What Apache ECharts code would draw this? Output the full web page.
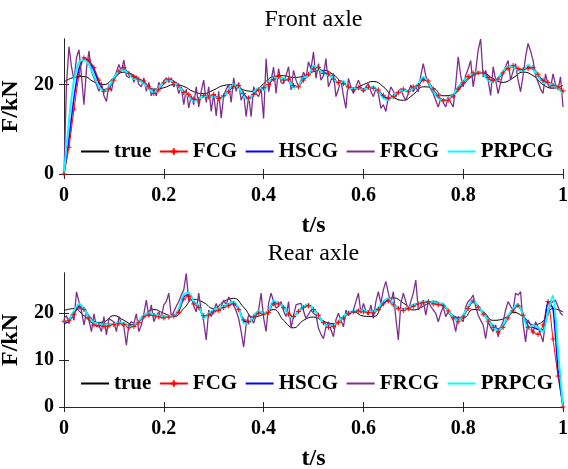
<!DOCTYPE html>
<html>
<head>
<meta charset="utf-8">
<script src="https://cdn.jsdelivr.net/npm/echarts@6/dist/echarts.min.js"></script>
<style>
  html, body { margin: 0; padding: 0; background: #ffffff; }
  #chart { width: 568px; height: 469px; }
</style>
</head>
<body>
<div id="chart"></div>
<script>
// Axle load identification: true load vs. four estimators (FCG, HSCG, FRCG, PRPCG)
const seriesNames = ['true', 'FCG', 'HSCG', 'FRCG', 'PRPCG'];
const xTicks = [0, 0.2, 0.4, 0.6, 0.8, 1];
const frontYTicks = [0, 20];
const rearYTicks = [0, 10, 20];
const frontYMax = 30.2;
const rearYMax = 28.6;

// ---- Front axle (kN) ----
// true load, 0.02 s step
const frontTrue = [
  20.6, 21.6, 21.8, 20.6, 20.0, 21.5, 22.8, 22.0, 20.3, 19.0,
  19.3, 20.0, 19.6, 18.4, 18.0, 18.8, 19.8, 20.0, 18.8, 18.5,
  20.2, 21.8, 22.0, 21.6, 21.9, 22.9, 23.2, 22.2, 20.2, 19.2,
  20.0, 20.7, 19.5, 17.2, 16.5, 17.8, 19.5, 19.2, 17.5, 17.8,
  20.0, 22.0, 22.6, 21.3, 20.5, 21.5, 22.8, 22.0, 20.0, 19.2,
  19.8
];
// FCG, 0.01 s step
const frontFCG = [
  0, 6, 14.5, 22, 26, 25.5, 23.8, 21, 18.5, 19,
  21, 23, 23.8, 22.5, 21.8, 21.2, 20.8, 19.5, 18, 18.8,
  20.4, 21.2, 20.5, 19.8, 18.2, 17.8, 16.8, 16.6, 17.6, 17.2,
  17.8, 16.9, 17.5, 18.4, 19.6, 19.8, 18.0, 17.0, 17.8, 18.8,
  19.3, 20.0, 21.2, 21.8, 21.0, 21.2, 19.8, 19.5, 21.0, 22.3,
  23.5, 23.8, 22.5, 22.4, 21.2, 20.5, 20.2, 19.5, 18.8, 19.3,
  18.7, 19.4, 19.2, 18.8, 17.6, 17.0, 17.3, 18.2, 19.0, 18.4,
  19.5, 19.8, 21.0, 20.8, 19.0, 17.5, 16.4, 16.5, 17.4, 19.0,
  20.4, 21.8, 22.6, 22.6, 22.6, 21.6, 20.9, 21.2, 22.6, 23.6,
  24.3, 23.6, 23.4, 23.6, 23.8, 22.3, 21.0, 20.5, 19.8, 19.5,
  18.6
];
// HSCG, 0.01 s step
const frontHSCG = [
  0, 8, 17, 23.5, 25.8, 25.2, 23.2, 20.5, 18.8, 19.3,
  21.2, 22.8, 23.4, 22.6, 21.5, 21.0, 20.4, 19.2, 18.3, 19.0,
  20.3, 21.0, 20.7, 19.7, 18.5, 17.5, 16.5, 16.8, 17.4, 17.4,
  17.5, 17.0, 17.3, 18.6, 19.8, 19.5, 17.8, 16.8, 18.0, 19.0,
  19.0, 20.3, 21.4, 21.5, 21.3, 20.8, 19.5, 19.8, 21.2, 22.0,
  23.8, 23.5, 22.8, 22.2, 21.5, 20.2, 20.5, 19.2, 19.1, 19.0,
  18.9, 19.2, 19.4, 18.6, 17.3, 16.8, 17.5, 18.4, 18.8, 18.6,
  19.2, 20.0, 21.3, 20.5, 18.7, 17.2, 16.5, 16.8, 17.7, 19.3,
  20.6, 21.6, 22.4, 22.8, 22.4, 21.2, 20.8, 21.4, 22.8, 23.8,
  24.0, 23.4, 23.2, 24.0, 23.4, 22.0, 20.7, 20.3, 20.0, 19.3,
  18.3
];
// FRCG, 0.005 s step
const frontFRCG = [
  0, 20, 28.5, 24, 21, 26, 27.8, 22, 15.5, 23.5,
  27.5, 23, 21.5, 20, 18.5, 20.5, 17.5, 16.2, 20, 18.5,
  21.5, 22.8, 24.5, 23, 25.5, 22, 21.5, 22.5, 20.5, 22,
  20, 19.5, 21.5, 18.5, 20.5, 17.5, 19, 17.5, 20.5, 19.5,
  20.8, 21.5, 20.5, 21.5, 19.5, 20.5, 18, 19.5, 15.5, 19,
  14.8, 17.5, 15.5, 19.5, 15, 18.5, 21, 16, 19.5, 14,
  18, 13, 18.5, 12.5, 17.5, 19, 20, 16, 21.5, 18.5,
  20.5, 16.5, 18, 12.8, 17.5, 12.8, 19.5, 18, 17.3, 19,
  12.4, 25.8, 18.4, 21, 23.9, 18, 23.6, 20.5, 20.2, 22,
  24, 18.8, 23.2, 21, 19.5, 21, 22.8, 21.5, 25.1, 23.5,
  27.3, 21.4, 24.7, 21, 22, 25.8, 19.5, 21, 22.5, 17.3,
  19, 21, 17.5, 14.7, 21.4, 19.5, 18, 19.5, 21, 19.5,
  18.4, 19.5, 20.2, 18.5, 17.3, 19, 18, 14.7, 15.5, 14,
  17.3, 19.5, 18.5, 17.3, 18.5, 19.1, 17.5, 16.5, 18, 19.9,
  18.4, 19.5, 18.4, 22, 24.7, 22, 20.2, 19, 18, 16.5,
  15, 16.9, 16, 15, 17.3, 16, 15, 20, 26.2, 22,
  19.5, 22.1, 23.5, 25.4, 19.5, 23, 27.7, 30.2, 21.7, 23.2,
  21, 17.6, 24, 21, 18, 20.5, 22.8, 24, 25.4, 21,
  23, 24.7, 21, 18.4, 22, 26.2, 29.2, 27.5, 25.4, 22,
  20.6, 19, 18, 22.4, 20, 19.1, 22.4, 20, 18.8, 21.7,
  15
];
// PRPCG, 0.01 s step
const frontPRPCG = [
  0, 12, 21, 25, 25.6, 24.5, 22, 19.5, 18.5, 19.5,
  21.5, 23, 23.3, 22.3, 21.3, 21.0, 20.2, 19, 18.2, 19.2,
  20.5, 21.0, 20.5, 19.5, 18.3, 17.3, 16.2, 16.8, 17.5, 17.3,
  17.4, 16.8, 17.2, 18.8, 20.0, 19.4, 17.5, 16.5, 18.3, 19.2,
  18.8, 20.5, 21.6, 21.5, 21.3, 21.0, 19.3, 19.8, 21.5, 22.0,
  24.2, 23.4, 22.6, 22.0, 21.5, 20.0, 20.8, 19.0, 19.2, 19.0,
  18.8, 19.2, 19.5, 18.5, 17.0, 16.5, 17.5, 18.5, 18.8, 18.5,
  19.2, 20.2, 21.7, 20.5, 18.5, 17.0, 16.3, 16.8, 17.8, 19.5,
  20.8, 21.8, 22.5, 22.8, 22.3, 21.0, 20.6, 21.5, 23.0, 24.0,
  24.0, 23.2, 23.0, 24.4, 23.5, 21.8, 20.5, 20.2, 20.0, 19.2,
  18.0
];

// ---- Rear axle (kN) ----
const rearTrue = [
  20.6, 21.0, 19.5, 18.0, 18.2, 19.5, 18.5, 17.5, 19.5, 20.8,
  20.0, 19.3, 21.0, 23.0, 22.3, 21.0, 22.5, 23.2, 21.3, 19.2,
  19.8, 20.8, 18.5, 16.9, 18.5, 19.2, 18.3, 17.8, 19.0, 20.3,
  19.4, 19.3, 22.0, 23.3, 22.2, 20.7, 21.5, 22.6, 21.5, 19.5,
  19.0, 20.8, 20.3, 18.5, 18.8, 20.2, 19.3, 17.6, 18.3, 21.0,
  20.3
];
const rearFCG = [
  18.3, 18.5, 19.8, 21.2, 20.8, 19.0, 17.5, 17.4, 17.2, 17.3,
  17.6, 17.8, 17.6, 16.9, 17.2, 18.0, 19.2, 19.6, 19.5, 19.2,
  19.0, 19.2, 19.4, 20.2, 23.0, 23.6, 22.0, 21.2, 19.5, 19.6,
  20.3, 20.6, 21.2, 21.6, 22.0, 20.8, 18.6, 18.2, 19.2, 20.0,
  19.8, 20.2, 22.0, 22.0, 21.2, 19.8, 19.3, 20.4, 21.2, 21.6,
  20.8, 19.6, 18.0, 17.0, 17.2, 18.0, 19.0, 20.0, 20.3, 20.5,
  20.3, 20.2, 20.1, 20.8, 22.0, 22.6, 21.8, 21.0, 20.6, 21.0,
  21.5, 22.0, 22.3, 22.5, 22.0, 21.8, 21.6, 20.5, 19.0, 18.2,
  19.2, 21.0, 22.6, 21.3, 19.8, 18.3, 17.0, 16.0, 17.0, 19.0,
  20.5, 21.6, 19.6, 17.0, 16.0, 15.5, 17.5, 22.5, 14.5, 6.6,
  0
];
const rearHSCG = [
  17.8, 18.3, 20.0, 21.5, 21.0, 19.4, 18.2, 17.9, 17.7, 17.6,
  17.8, 18.0, 17.9, 17.3, 17.5, 18.3, 19.4, 19.9, 19.8, 19.5,
  19.3, 19.3, 19.4, 20.6, 23.5, 24.0, 22.6, 21.5, 19.3, 19.8,
  20.6, 21.0, 21.5, 21.9, 22.2, 21.0, 18.4, 18.0, 19.4, 20.3,
  20.1, 20.4, 22.4, 22.2, 21.4, 19.7, 19.2, 20.5, 21.4, 21.8,
  20.9, 19.6, 18.0, 17.4, 17.5, 18.3, 19.2, 20.1, 20.4, 20.6,
  20.5, 20.5, 20.4, 21.1, 22.3, 22.9, 22.0, 21.1, 20.9, 21.3,
  21.7, 22.1, 22.4, 22.4, 22.3, 22.1, 21.8, 20.6, 19.3, 18.6,
  19.6, 21.3, 22.5, 21.5, 20.1, 18.6, 17.4, 16.6, 17.4, 19.3,
  20.8, 21.8, 19.8, 17.2, 17.0, 16.6, 16.5, 22.5, 21.0, 8.0,
  0
];
const rearFRCG = [
  18.9, 19.5, 17.8, 19.8, 18.5, 24.6, 22.5, 20.5, 17.5, 20.3,
  18.5, 16.1, 19.9, 17.1, 17.5, 16.1, 19.3, 15.4, 18.9, 18.5,
  18.2, 16.1, 19.3, 17.8, 17.1, 13.2, 17.6, 18.2, 17.8, 19.9,
  16.1, 17.5, 19.9, 22.8, 19.3, 21.8, 18.2, 19.5, 20.3, 19,
  21.8, 22.5, 24.3, 19.3, 20.3, 21.5, 22.5, 23.9, 25, 28.5,
  22.5, 23.9, 21.5, 20.3, 24.3, 20.5, 18.2, 14.3, 20.7, 19.3,
  20.5, 22.1, 20.7, 21.4, 22.8, 21.8, 23.5, 22.5, 21.8, 20.5,
  18.9, 16.1, 12.8, 17.5, 19.6, 19, 17.9, 19.5, 20.7, 24.3,
  19, 16.1, 22.1, 24.3, 22.5, 21.1, 21.5, 22.5, 20.5, 19.3,
  22.5, 16.8, 19.5, 21.8, 22, 22.1, 20.5, 18.9, 19.8, 20.7,
  20, 19.6, 16.8, 15.5, 14.6, 17.1, 18.2, 16.5, 15, 18.6,
  20, 18.5, 17.1, 20.7, 19.6, 20, 20.7, 22.5, 24.3, 20,
  22.1, 20.5, 19.6, 21.8, 18.9, 22.5, 24.6, 22.1, 25, 26.8,
  24.3, 22.1, 24.6, 19, 14.3, 22.1, 24.3, 22.5, 20.7, 22.5,
  24.3, 27.1, 20.7, 21.5, 22.8, 19.6, 22.5, 21.5, 20.7, 20,
  18.2, 20, 21.4, 19.3, 20.3, 19.5, 18.6, 16.1, 19.3, 18.8,
  18.2, 21.4, 22.5, 23, 23.9, 21.4, 19.6, 18.5, 17.5, 14.6,
  18.2, 17, 16.1, 17.5, 15, 17, 18.2, 20.7, 22.5, 21.5,
  20.7, 24.3, 23.9, 24.6, 17.8, 13.9, 18.6, 17.5, 15.7, 18.2,
  17.1, 15.5, 13.9, 18.5, 19.6, 22.1, 22.5, 22.8, 21.4, 20,
  19.6
];
const rearPRPCG = [
  18.2, 18.6, 20.5, 22.1, 21.0, 19.2, 18.0, 17.8, 17.6, 17.6,
  17.8, 18.0, 18.0, 17.1, 17.5, 18.4, 19.6, 20.0, 19.8, 19.5,
  19.3, 19.4, 19.5, 21.0, 24.0, 24.4, 22.5, 21.6, 19.0, 20.0,
  20.8, 21.0, 21.6, 22.0, 22.5, 21.0, 18.0, 17.8, 19.5, 20.5,
  20.0, 20.5, 22.7, 22.2, 21.4, 19.5, 19.0, 20.6, 21.5, 22.0,
  20.8, 19.5, 17.8, 17.3, 17.5, 18.3, 19.3, 20.2, 20.5, 20.7,
  20.5, 20.5, 20.3, 21.2, 22.5, 23.2, 22.0, 21.0, 20.8, 21.3,
  21.8, 22.2, 22.5, 22.5, 22.4, 22.2, 22.0, 20.5, 19.2, 18.4,
  19.6, 21.5, 22.8, 21.5, 20.0, 18.5, 17.2, 16.3, 17.5, 19.5,
  21.0, 22.0, 19.5, 16.8, 17.5, 17.0, 16.0, 20.5, 23.8, 12.0,
  0
];

// ---- styling ----
const FONT = 'Liberation Serif';
const AXIS_COLOR = '#262626';
const lineColors = {
  'true': '#000000',
  'FCG': '#ff0000',
  'HSCG': '#0000ff',
  'FRCG': '#7e2f8e',
  'PRPCG': '#00ffff'
};
const lineWidths = { 'true': 1, 'FCG': 1, 'HSCG': 1.5, 'FRCG': 1.3, 'PRPCG': 2 };

// samples span 0..1 s evenly
function toPairs(values) {
  const dt = 1 / (values.length - 1);
  return values.map((v, i) => [+(i * dt).toFixed(4), v]);
}

function makeSeries(name, values, axisIndex) {
  const s = {
    name: name,
    type: 'line',
    xAxisIndex: axisIndex,
    yAxisIndex: axisIndex,
    data: toPairs(values),
    symbol: 'none',
    smooth: name === 'true' ? 0.5 : (name === 'FRCG' ? false : 0.2),
    lineStyle: { color: lineColors[name], width: lineWidths[name] },
    itemStyle: { color: lineColors[name] },
    clip: true,
    animation: false,
    emphasis: { disabled: true }
  };
  if (name === 'FCG') {
    s.symbol = 'path://M5,0 L5,10 M0,5 L10,5';
    s.symbolSize = 5;
    s.showSymbol = true;
    s.showAllSymbol = true;
    s.itemStyle = { color: '#ff0000', borderColor: '#ff0000', borderWidth: 1 };
  }
  return s;
}

const tickLabelStyle = { fontFamily: FONT, fontSize: 20, fontWeight: 'bold', color: '#000' };
const nameStyle = { fontFamily: FONT, fontSize: 24, fontWeight: 'bold', color: '#000' };
const axisLine = { show: true, lineStyle: { color: AXIS_COLOR, width: 1 } };

function xAxes(gridIndex) {
  return [
    {
      type: 'value', gridIndex: gridIndex, position: 'bottom', min: 0, max: 1, interval: 0.2,
      axisLine: axisLine,
      axisTick: { inside: true, length: 5, customValues: xTicks, lineStyle: { color: AXIS_COLOR } },
      axisLabel: { customValues: xTicks, margin: 12, hideOverlap: false, ...tickLabelStyle },
      splitLine: { show: false },
      name: 't/s', nameLocation: 'middle', nameGap: 40, nameTextStyle: nameStyle
    },
    {
      type: 'value', gridIndex: gridIndex, position: 'top', min: 0, max: 1, interval: 0.2,
      axisLine: axisLine,
      axisTick: { inside: true, length: 5, customValues: xTicks, lineStyle: { color: AXIS_COLOR } },
      axisLabel: { show: false },
      splitLine: { show: false }
    }
  ];
}

function yAxes(gridIndex, yMax, ticks) {
  return [
    {
      type: 'value', gridIndex: gridIndex, position: 'left', min: 0, max: yMax, interval: 10,
      axisLine: axisLine,
      axisTick: { inside: true, length: 5, customValues: ticks, lineStyle: { color: AXIS_COLOR } },
      axisLabel: { customValues: ticks, margin: 10, hideOverlap: false, ...tickLabelStyle },
      splitLine: { show: false },
      name: 'F/kN', nameLocation: 'middle', nameGap: 32, nameTextStyle: nameStyle
    },
    {
      type: 'value', gridIndex: gridIndex, position: 'right', min: 0, max: yMax, interval: 10,
      axisLine: axisLine,
      axisTick: { inside: true, length: 5, customValues: ticks, lineStyle: { color: AXIS_COLOR } },
      axisLabel: { show: false },
      splitLine: { show: false }
    }
  ];
}

// legend entries: plain line for every method, line with '+' for FCG
function legendAt(top) {
  return {
    data: seriesNames.map(n => n === 'FCG' ? { name: n } : { name: n, itemStyle: { opacity: 0 } }),
    left: 80, top: top,
    orient: 'horizontal',
    padding: 0,
    itemWidth: 28, itemHeight: 8, itemGap: 7.5,
    selectedMode: false,
    textStyle: { fontFamily: FONT, fontSize: 21, fontWeight: 'bold', color: '#000' }
  };
}

const frontSets = { 'true': frontTrue, 'FCG': frontFCG, 'HSCG': frontHSCG, 'FRCG': frontFRCG, 'PRPCG': frontPRPCG };
const rearSets = { 'true': rearTrue, 'FCG': rearFCG, 'HSCG': rearHSCG, 'FRCG': rearFRCG, 'PRPCG': rearPRPCG };

// front panel draws on axes 0 (bottom x / left y), rear panel on axes 2
const series = [];
seriesNames.forEach(n => series.push(makeSeries(n, frontSets[n], 0)));
seriesNames.forEach(n => series.push(makeSeries(n, rearSets[n], 2)));

const chart = echarts.init(document.getElementById('chart'), null, { renderer: 'canvas' });
chart.setOption({
  backgroundColor: '#ffffff',
  animation: false,
  title: [
    { text: 'Front axle', left: 313.5, top: 8, textAlign: 'center', padding: 0,
      textStyle: { fontFamily: FONT, fontSize: 24, fontWeight: 'normal', color: '#000' } },
    { text: 'Rear axle', left: 313.5, top: 242, textAlign: 'center', padding: 0,
      textStyle: { fontFamily: FONT, fontSize: 24, fontWeight: 'normal', color: '#000' } }
  ],
  grid: [
    { left: 64, right: 5, top: 39, height: 135, containLabel: false, outerBoundsMode: 'none' },
    { left: 64, right: 5, top: 273, height: 134, containLabel: false, outerBoundsMode: 'none' }
  ],
  xAxis: [...xAxes(0), ...xAxes(1)],
  yAxis: [...yAxes(0, frontYMax, frontYTicks), ...yAxes(1, rearYMax, rearYTicks)],
  legend: [legendAt(141), legendAt(373)],
  series: series
});
</script>
</body>
</html>
